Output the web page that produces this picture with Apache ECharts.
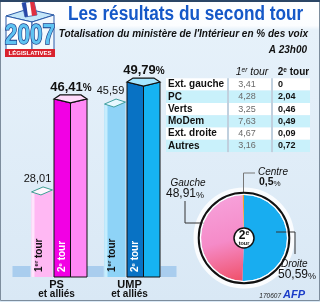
<!DOCTYPE html>
<html><head><meta charset="utf-8">
<script src="https://cdn.jsdelivr.net/npm/echarts@6/dist/echarts.min.js"></script>
<style>html,body{margin:0;padding:0;background:#fff}#c{width:320px;height:302px}</style>
</head><body><div id="c"></div>
<script>
// ---------- data ----------
const categories = ['PS', 'UMP'];
const categorySub = ['et alliés', 'et alliés'];
const tour1 = [28.01, 45.59];
const tour2 = [46.41, 49.79];
const rounds = ['1er tour', '2e tour'];
const tableRows = ['Ext. gauche', 'PC', 'Verts', 'MoDem', 'Ext. droite', 'Autres'];
const table1 = [3.41, 4.28, 3.25, 7.63, 4.67, 3.16];
const table2 = [0, 2.04, 0.46, 0.49, 0.09, 0.72];
const pieNames = ['Droite', 'Gauche', 'Centre'];
const pieValues = [50.59, 48.91, 0.5];
const titleText = 'Les résultats du second tour';
const subtitleText = "Totalisation du ministère de l'Intérieur en % des voix";
const timeText = 'A 23h00';
const logoYear = '2007';
const logoBand = 'LÉGISLATIVES';
const sourceDate = '170607';
const sourceName = 'AFP';

// ---------- styles ----------
const FONT = '"Liberation Sans", Arial, Helvetica, sans-serif';
const Y_MIN = 10, Y_MAX = 53.4;
const fmt = v => String(v).replace('.', ',');
const PAL = [
  {t1:'#ffb8f3', t1strip:'#ffe4fc', t1cap:'#fff6fe', t1edge:'#3f9f94', left:'#f200e4', right:'#ff88f5', cap:'#ffdafb'},
  {t1:'#8ed3f7', t1strip:'#c6edfd', t1cap:'#e6f8ff', t1edge:'#3f9f9f', left:'#0872c4', right:'#16b3f2', cap:'#a6e6ff'}
];
function roundParts(s){ const m = s.match(/^(\d)(\S+) (.*)$/); return m ? [m[1], m[2], m[3]] : [s,'','']; }
function vText(x, y, label, fill){
  const p = roundParts(label);
  return {type:'text', x, y, rotation: Math.PI/2,
    style:{text:`{a|${p[0]}}{b|${p[1]}}{a| ${p[2]}}`, align:'left', verticalAlign:'middle',
      rich:{a:{font:`bold 10px ${FONT}`, fill, lineHeight:11}, b:{font:`bold 6px ${FONT}`, fill, verticalAlign:'top', lineHeight:11}}}};
}

function render1(params, api){
  const i = api.value(0), v = api.value(1);
  const top = api.coord([i, v]);
  const base = api.coord([i, Y_MIN]);
  const c = top[0], B = base[1], T = top[1];
  const x0 = c - 25, w = 21, x1 = x0 + w;
  const P = PAL[i];
  return {type:'group', children:[
    {type:'rect', shape:{x:c-44, y:B-11, width:18, height:11}, style:{fill:'#a9cdee'}},
    {type:'rect', shape:{x:c+31, y:B-11, width:16, height:11}, style:{fill:'#a9cdee'}},
    {type:'polygon', shape:{points:[[x0,T+5],[x0+w*0.45,T+8],[x1,T+3],[x1,B],[x0,B]]}, style:{fill:P.t1}},
    {type:'polygon', shape:{points:[[x0,T+5],[x0+3,T+6.3],[x0+3,B],[x0,B]]}, style:{fill:P.t1strip}},
    {type:'polygon', shape:{points:[[x0,T+5],[x0+w*0.55,T],[x1,T+3],[x0+w*0.45,T+8]]}, style:{fill:P.t1cap, stroke:P.t1edge, lineWidth:1}},
    vText(x0+7.5, B-5, rounds[0], '#111'),
    {type:'text', x:x0+6, y:T-8, style:{text:fmt(v), font:`11px ${FONT}`, fill:'#111', align:'center', verticalAlign:'middle'}}
  ]};
}
function render2(params, api){
  const i = api.value(0), v = api.value(1);
  const top = api.coord([i, v]);
  const base = api.coord([i, Y_MIN]);
  const c = top[0], B = base[1];
  const x0 = c - 2.5, w = 33, x1 = x0 + w, xm = x0 + w/2;
  const T = top[1] + 4;
  const P = PAL[i];
  return {type:'group', children:[
    {type:'polygon', shape:{points:[[x0,T],[xm,T+4],[xm,B],[x0,B]]}, style:{fill:P.left, stroke:'#111', lineWidth:1}},
    {type:'polygon', shape:{points:[[xm,T+4],[x1,T],[x1,B],[xm,B]]}, style:{fill:P.right, stroke:'#111', lineWidth:1}},
    {type:'polygon', shape:{points:[[x0,T],[x0+6,T-4],[x1-6,T-4],[x1,T],[xm,T+4]]}, style:{fill:P.cap, stroke:'#111', lineWidth:1.2}},
    vText(x0+8.5, B-5, rounds[1], '#fff'),
    {type:'text', x:x0+17, y:top[1]-8, style:{text:`{n|${fmt(v)}}{p|%}`, align:'center', verticalAlign:'middle',
      rich:{n:{font:`bold 13px ${FONT}`, fill:'#111'}, p:{font:`bold 10px ${FONT}`, fill:'#111', verticalAlign:'bottom'}}}}
  ]};
}

// ---------- graphic (decor, table, pie labels) ----------
const G = [];
G.push({type:'rect', z:-20, shape:{x:0, y:0, width:320, height:302},
  style:{fill:new echarts.graphic.LinearGradient(0,0,0,1,[{offset:0,color:'#ffffff'},{offset:0.085,color:'#fbfdff'},{offset:0.1,color:'#e6f1fa'},{offset:1,color:'#d9e8f5'}])}});
G.push({type:'rect', z:50, shape:{x:0.5, y:0.5, width:319, height:300}, style:{fill:'none', stroke:'#7d8d9d', lineWidth:1}});
G.push({type:'line', z:50, shape:{x1:0, y1:1, x2:320, y2:1}, style:{stroke:'#2b4666', lineWidth:2}});
// logo
G.push({type:'polygon', z:20, shape:{points:[[6,16],[28,9],[54,15],[32,22]]}, style:{fill:'#c4e6f8', stroke:'#2a5aa8', lineWidth:1}});
G.push({type:'polygon', z:21, shape:{points:[[22,3],[34,1],[37,15],[25,17]]}, style:{fill:'#ffffff', stroke:'#2a5aa8', lineWidth:0.8}});
G.push({type:'polygon', z:22, shape:{points:[[30,2],[34,1],[37,15],[32,16]]}, style:{fill:'#e03040'}});
G.push({type:'polygon', z:22, shape:{points:[[22,3],[26,2.5],[28,16.5],[25,17]]}, style:{fill:'#2848a8'}});
G.push({type:'polygon', z:20, shape:{points:[[6,16],[32,22],[32,55],[6,50]]}, style:{fill:'#ffffff', stroke:'#2a5aa8', lineWidth:1}});
G.push({type:'polygon', z:20, shape:{points:[[32,22],[54,15],[54,50],[32,55]]}, style:{fill:'#f2f8fd', stroke:'#2a5aa8', lineWidth:1}});
G.push({type:'text', z:23, x:30, y:36, scaleX:0.78, style:{text:logoYear, font:`bold 29px ${FONT}`, fill:'#5fc3f2', stroke:'#1b3c86', lineWidth:1.6, align:'center', verticalAlign:'middle'}});
G.push({type:'rect', z:23, shape:{x:5, y:49, width:50, height:8}, style:{fill:'#d9232e'}});
G.push({type:'text', z:24, x:30, y:53.2, style:{text:logoBand, font:`bold 6px ${FONT}`, fill:'#fff', align:'center', verticalAlign:'middle'}});
// titles
G.push({type:'text', z:30, x:68, y:14, scaleX:0.86, style:{text:titleText, font:`bold 20px ${FONT}`, fill:'#1558c8', align:'left', verticalAlign:'middle'}});
G.push({type:'text', z:30, x:308, y:34, style:{text:subtitleText, font:`italic bold 10px ${FONT}`, fill:'#111', align:'right', verticalAlign:'middle'}});
G.push({type:'text', z:30, x:307, y:50, style:{text:timeText, font:`italic bold 10px ${FONT}`, fill:'#111', align:'right', verticalAlign:'middle'}});
// table
const TB = {y0:78.3, rowH:12.3, lx:166, lw:61, c1x:229, c1w:42, c2x:273, c2w:37};
const h1 = roundParts(rounds[0]), h2 = roundParts(rounds[1]);
G.push({type:'text', z:30, x:TB.c1x+TB.c1w/2+2, y:72.5, style:{text:`{a|${h1[0]}}{b|${h1[1]}}{a| ${h1[2]}}`, align:'center', verticalAlign:'middle',
  rich:{a:{font:`italic 10.5px ${FONT}`, fill:'#111', lineHeight:12}, b:{font:`italic 6.5px ${FONT}`, fill:'#111', verticalAlign:'top', lineHeight:12}}}});
G.push({type:'text', z:30, x:TB.c2x+TB.c2w/2+2, y:72.5, style:{text:`{a|${h2[0]}}{b|${h2[1]}}{a| ${h2[2]}}`, align:'center', verticalAlign:'middle',
  rich:{a:{font:`bold 10px ${FONT}`, fill:'#111', lineHeight:12}, b:{font:`bold 6.5px ${FONT}`, fill:'#111', verticalAlign:'top', lineHeight:12}}}});
tableRows.forEach((name, r) => {
  const y = TB.y0 + r * TB.rowH, fill = r % 2 ? '#c9f1fb' : '#ffffff', cy = y + TB.rowH/2;
  G.push({type:'rect', z:25, shape:{x:TB.lx, y, width:TB.lw, height:TB.rowH}, style:{fill}});
  G.push({type:'rect', z:25, shape:{x:TB.c1x, y, width:TB.c1w, height:TB.rowH}, style:{fill}});
  G.push({type:'rect', z:25, shape:{x:TB.c2x, y, width:TB.c2w, height:TB.rowH}, style:{fill}});
  G.push({type:'text', z:30, x:TB.lx+2, y:cy, style:{text:name, font:`bold 10px ${FONT}`, fill:'#111', align:'left', verticalAlign:'middle'}});
  G.push({type:'text', z:30, x:TB.c1x+18, y:cy, style:{text:fmt(table1[r]), font:`9px ${FONT}`, fill:'#6a6a6a', align:'center', verticalAlign:'middle'}});
  G.push({type:'text', z:30, x:TB.c2x+5, y:cy, style:{text:fmt(table2[r]), font:`bold 9px ${FONT}`, fill:'#111', align:'left', verticalAlign:'middle'}});
});
G.push({type:'line', z:26, shape:{x1:228, y1:TB.y0, x2:228, y2:TB.y0+6*TB.rowH}, style:{stroke:'#9fb2c4', lineWidth:1}});
G.push({type:'line', z:26, shape:{x1:272, y1:TB.y0, x2:272, y2:TB.y0+6*TB.rowH}, style:{stroke:'#9fb2c4', lineWidth:1}});
// pie decoration
const PC = [244, 238];
const PR = 43;
G.push({type:'circle', z:-5, shape:{cx:PC[0], cy:PC[1], r:PR+5}, style:{fill:'none', stroke:'rgba(255,255,255,0.85)', lineWidth:5}});
G.push({type:'circle', z:40, shape:{cx:PC[0], cy:PC[1], r:PR+0.6}, style:{fill:'none', stroke:'#ffffff', lineWidth:1.3}});
G.push({type:'circle', z:40, shape:{cx:PC[0], cy:PC[1], r:PR+2.3}, style:{fill:'none', stroke:'#111', lineWidth:2}});
G.push({type:'circle', z:41, shape:{cx:PC[0], cy:PC[1], r:10}, style:{fill:'#fff', stroke:'#111', lineWidth:1.5}});
G.push({type:'text', z:42, x:PC[0], y:PC[1]-2.5, style:{text:`{a|${h2[0]}}{b|${h2[1]}}`, align:'center', verticalAlign:'middle',
  rich:{a:{font:`bold 12px ${FONT}`, fill:'#111', lineHeight:12}, b:{font:`bold 7px ${FONT}`, fill:'#111', verticalAlign:'top', lineHeight:12}}}});
G.push({type:'text', z:42, x:PC[0], y:PC[1]+5.5, style:{text:h2[2], font:`bold 5.5px ${FONT}`, fill:'#111', align:'center', verticalAlign:'middle'}});
// pie labels: Droite, Gauche, Centre
const PL = [
  {nx:281, ny:264, vx:278, vy:275, align:'left', line:[[276,232],[295,232],[295,254]], lc:'#333'},
  {nx:188, ny:183, vx:185, vy:194, align:'center', line:[[185,201],[185,223],[204,223]], lc:'#333'},
  {nx:258, ny:172, vx:259, vy:182, align:'left', line:[[255,173],[243.5,173],[243.5,193]], lc:'#777'}
];
pieNames.forEach((n, k) => {
  const L = PL[k], big = k < 2;
  G.push({type:'text', z:45, x:L.nx, y:L.ny, style:{text:n, font:`italic 10px ${FONT}`, fill:'#111', align:L.align, verticalAlign:'middle'}});
  G.push({type:'text', z:45, x:L.vx, y:L.vy, style:{text:`{n|${fmt(pieValues[k])}}{p|%}`, align:L.align, verticalAlign:'middle',
    rich:{n:{font:`${big?'':'bold '}${big?12:10.5}px ${FONT}`, fill:'#111'}, p:{font:`${big?9:8}px ${FONT}`, fill:'#111', verticalAlign:'bottom'}}}});
  G.push({type:'polyline', z:30, shape:{points:L.line}, style:{stroke:L.lc, lineWidth:1, fill:'none'}});
});
// source
G.push({type:'text', z:30, x:281, y:296, style:{text:sourceDate, font:`italic 6.5px ${FONT}`, fill:'#222', align:'right', verticalAlign:'middle'}});
G.push({type:'text', z:30, x:283, y:295, style:{text:sourceName, font:`italic bold 11px ${FONT}`, fill:'#1a3cc8', align:'left', verticalAlign:'middle'}});

// ---------- chart ----------
const chart = echarts.init(document.getElementById('c'), null, {renderer:'canvas'});
chart.setOption({
  animation:false,
  backgroundColor:'#ffffff',
  grid:{left:20, right:154, top:60, bottom:25},
  xAxis:{type:'category', data:categories, axisLine:{show:false}, axisTick:{show:false}, splitLine:{show:false},
    axisLabel:{interval:0, hideOverlap:false, margin:2.5, formatter:(v, i) => `{a|${v}}\n{b|${categorySub[i]}}`,
      rich:{a:{fontFamily:FONT, fontSize:11, fontWeight:'bold', color:'#111', lineHeight:10},
            b:{fontFamily:FONT, fontSize:10, fontWeight:'bold', color:'#111', lineHeight:10}}}},
  yAxis:{type:'value', min:Y_MIN, max:Y_MAX, show:false},
  graphic:G,
  series:[
    {type:'custom', name:rounds[0], renderItem:render1, data:tour1.map((v,i)=>[i,v]), z:3},
    {type:'custom', name:rounds[1], renderItem:render2, data:tour2.map((v,i)=>[i,v]), z:4},
    {type:'pie', name:'2e tour', center:PC, radius:[0,PR], startAngle:90, clockwise:true, silent:true,
      label:{show:false}, labelLine:{show:false}, z:5,
      data:pieNames.map((n,k)=>({name:n, value:pieValues[k]})),
      color:['#18adf0', new echarts.graphic.LinearGradient(0.2,0,0.7,1,[{offset:0,color:'#f7a3dc'},{offset:0.55,color:'#f58bc8'},{offset:1,color:'#f0546f'}]), '#f0a030']}
  ]
});
</script></body></html>
